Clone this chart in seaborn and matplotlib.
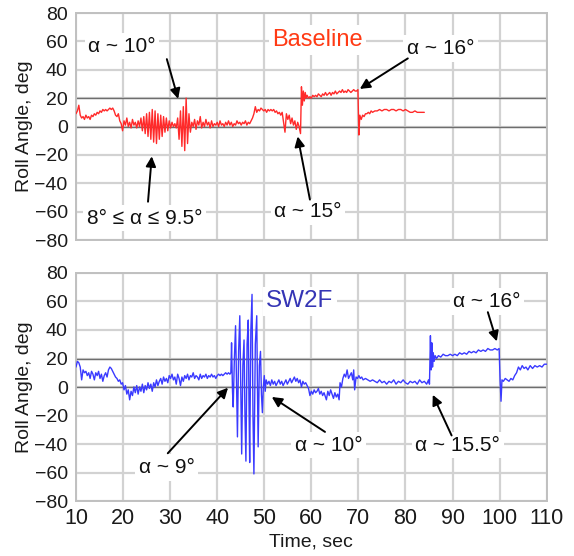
import numpy as np
import pandas as pd
import matplotlib
matplotlib.use("Agg")
import matplotlib.pyplot as plt
import seaborn as sns

# ---------------- data ----------------
base_t = [10.0, 10.3, 10.6, 10.9, 11.2, 11.5, 11.8, 12.1, 12.4, 12.7, 13.0, 13.3, 13.6, 13.9, 14.2, 14.5, 14.8,
          15.1, 15.4, 15.7, 16.0, 16.3, 16.6, 16.9, 17.2, 17.5, 17.8, 18.1, 18.4, 18.7, 19.0, 19.3, 19.6, 19.9,
          20.2, 20.5, 20.8, 21.1, 21.4, 21.7, 22.0, 22.3, 22.6, 22.9, 23.2, 23.5, 23.8, 24.1, 24.4, 24.7, 25.0,
          25.3, 25.6, 25.9, 26.2, 26.5, 26.8, 27.1, 27.4, 27.7, 28.0, 28.3, 28.6, 28.9, 29.2, 29.5, 29.8, 30.1,
          30.4, 30.7, 31.0, 31.3, 31.6, 31.9, 32.2, 32.5, 32.8, 33.1, 33.4, 33.7, 34.0, 34.3, 34.6, 34.9, 35.2,
          35.5, 35.8, 36.1, 36.4, 36.7, 37.0, 37.3, 37.6, 37.9, 38.2, 38.5, 38.8, 39.1, 39.4, 39.7, 40.0, 40.3,
          40.6, 40.9, 41.2, 41.5, 41.8, 42.1, 42.4, 42.7, 43.0, 43.3, 43.6, 43.9, 44.2, 44.5, 44.8, 45.1, 45.4,
          45.7, 46.0, 46.3, 46.6, 46.9, 47.2, 47.5, 47.8, 48.1, 48.4, 48.7, 49.0, 49.3, 49.6, 49.9, 50.2, 50.5,
          50.8, 51.1, 51.4, 51.7, 52.0, 52.3, 52.6, 52.9, 53.2, 53.5, 53.8, 54.1, 54.4, 54.7, 55.0, 55.3, 55.6,
          55.9, 56.2, 56.5, 56.8, 57.1, 57.4, 57.7, 57.9, 58.1, 58.3, 58.5, 58.7, 58.9, 59.1, 59.4, 59.7, 60.0,
          60.3, 60.6, 60.9, 61.2, 61.5, 61.8, 62.1, 62.4, 62.7, 63.0, 63.3, 63.6, 63.9, 64.2, 64.5, 64.8, 65.1,
          65.4, 65.7, 66.0, 66.3, 66.6, 66.9, 67.2, 67.5, 67.8, 68.1, 68.4, 68.7, 69.0, 69.3, 69.6, 69.9, 70.1,
          70.3, 70.6, 70.9, 71.2, 71.5, 71.8, 72.1, 72.4, 72.7, 73.0, 73.5, 74.0, 74.5, 75.0, 75.5, 76.0, 76.5,
          77.0, 77.5, 78.0, 78.5, 79.0, 79.5, 80.0, 80.5, 81.0, 81.5, 82.0, 82.5, 83.0, 83.5, 84.0]
base_roll = [9, 11, 15, 8, 6, 7, 5, 8, 6, 7, 5, 8, 7, 9, 8, 10, 9,
             11, 10, 12, 11, 12, 11, 12, 13, 12, 13, 11, 8, 7, 9, 4, 2, -3,
             4, 1, 6, 0, 3, -1, 5, 1, 3, -1, 4, 0, 6, -3, 7, -5, 9,
             -7, 10, -9, 12, -11, 11, -12, 9, -9, 8, -7, 7, -4, 6, -3, 4, -1,
             3, 0, 2, -1, 6, -9, 11, -14, 14, -17, 20, -12, 9, -4, 3, 0, 5,
             -2, 4, 1, 7, -1, 3, 0, 5, 1, 3, -1, 4, 0, 2, 1, 3, 0,
             4, 1, 2, 0, 3, 1, 4, 1, 3, 0, 2, 1, 4, 2, 3, 1, 3,
             2, 4, 1, 3, 2, 4, 6, 9, 14, 10, 12, 11, 13, 12, 11, 12, 10,
             12, 11, 12, 11, 12, 10, 11, 9, 10, 8, 10, 3, -4, 9, 5, 8, 2,
             6, 1, 4, -2, 3, 0, -5, 28, 15, 25, 18, 24, 20, 22, 20, 21, 20,
             22, 21, 22, 21, 23, 22, 21, 23, 22, 24, 22, 23, 24, 22, 24, 23, 25,
             23, 24, 25, 24, 26, 24, 25, 24, 26, 25, 24, 25, 26, 25, 25, 26, -6,
             8, 5, 8, 7, 9, 9, 10, 9, 11, 10, 11, 11, 12, 11, 12, 12, 11,
             12, 12, 11, 12, 12, 11, 12, 11, 10, 10, 11, 10, 10, 10, 10]

sw_t = [10.0, 10.3, 10.6, 10.9, 11.2, 11.5, 11.8, 12.1, 12.4, 12.7, 13.0, 13.3, 13.6, 13.9, 14.2, 14.5, 14.8,
        15.1, 15.4, 15.7, 16.0, 16.3, 16.6, 16.9, 17.2, 17.5, 17.8, 18.1, 18.4, 18.7, 19.0, 19.3, 19.6, 19.9,
        20.2, 20.5, 20.8, 21.1, 21.4, 21.7, 22.0, 22.3, 22.6, 22.9, 23.2, 23.5, 23.8, 24.1, 24.4, 24.7, 25.0,
        25.3, 25.6, 25.9, 26.2, 26.5, 26.8, 27.1, 27.4, 27.7, 28.0, 28.3, 28.6, 28.9, 29.2, 29.5, 29.8, 30.1,
        30.4, 30.7, 31.0, 31.3, 31.6, 31.9, 32.2, 32.5, 32.8, 33.1, 33.4, 33.7, 34.0, 34.3, 34.6, 34.9, 35.2,
        35.5, 35.8, 36.1, 36.4, 36.7, 37.0, 37.3, 37.6, 37.9, 38.2, 38.5, 38.8, 39.1, 39.4, 39.7, 40.0, 40.3,
        40.6, 40.9, 41.2, 41.5, 41.8, 42.1, 42.4, 42.7, 42.9, 43.05, 43.25, 43.4, 43.65, 43.9, 44.1, 44.3,
        44.55, 44.8, 45.0, 45.2, 45.45, 45.7, 45.9, 46.1, 46.35, 46.6, 46.75, 46.9, 47.15, 47.4, 47.6, 47.8,
        48.1, 48.4, 48.55, 48.7, 48.95, 49.2, 49.4, 49.6, 49.8, 50.0, 50.2, 50.4, 50.7, 51.0, 51.3, 51.6,
        51.9, 52.2, 52.5, 52.8, 53.1, 53.4, 53.7, 54.0, 54.3, 54.6, 54.9, 55.2, 55.5, 55.8, 56.1, 56.4, 56.7,
        57.0, 57.3, 57.6, 57.9, 58.2, 58.5, 58.8, 59.1, 59.4, 59.7, 60.0, 60.3, 60.6, 60.9, 61.2, 61.5, 61.8,
        62.1, 62.4, 62.7, 63.0, 63.2, 63.5, 63.8, 64.1, 64.4, 64.7, 65.0, 65.3, 65.6, 65.9, 66.1, 66.4, 66.7,
        67.0, 67.3, 67.6, 67.9, 68.2, 68.5, 68.8, 69.0, 69.2, 69.5, 69.8, 70.1, 70.4, 70.7, 71.0, 71.5, 72.0,
        72.5, 73.0, 73.5, 74.0, 74.5, 75.0, 75.5, 76.0, 76.5, 77.0, 77.5, 78.0, 78.5, 79.0, 79.5, 80.0, 80.5,
        81.0, 81.5, 82.0, 82.5, 83.0, 83.5, 84.0, 84.5, 84.9, 85.1, 85.3, 85.45, 85.6, 85.75, 85.9, 86.1,
        86.3, 86.6, 87.0, 87.5, 88.0, 88.5, 89.0, 89.5, 90.0, 90.5, 91.0, 91.5, 92.0, 92.5, 93.0, 93.5, 94.0,
        94.5, 95.0, 95.5, 96.0, 96.5, 97.0, 97.5, 98.0, 98.5, 99.0, 99.5, 99.9, 100.1, 100.3, 100.5, 100.8,
        101.2, 101.6, 102.0, 102.4, 102.8, 103.2, 103.6, 104.0, 104.4, 104.8, 105.2, 105.6, 106.0, 106.5,
        107.0, 107.5, 108.0, 108.5, 109.0, 109.5, 110.0]
sw_roll = [14, 18, 17, 14, 5, 12, 10, 11, 8, 10, 6, 11, 9, 5, 10, 8, 11,
           6, 9, 4, 8, 10, 7, 12, 14, 13, 11, 9, 7, 6, 4, 5, 2, 3,
           -2, 1, -5, -2, -9, -3, -6, 0, -4, 1, -5, 0, -3, 2, -4, 1, -2,
           3, -1, 2, -3, 3, 0, 5, 1, 4, 6, 2, 7, 4, 6, 3, 8, 6,
           9, 5, 7, 2, 9, 6, 1, 7, 4, 8, 6, 9, 5, 8, 7, 10, 6,
           8, 7, 5, 9, 6, 8, 7, 9, 6, 8, 7, 9, 7, 8, 6, 8, 9,
           8, 9, 8, 9, 10, 9, 10, 9, 10, 31, -3, -14, 20, 43, 5, -35,
           25, 50, 0, -47, 15, 33, -20, -52, 30, 47, -10, -53, 40, 65, -20, -61,
           30, 50, 0, -42, 15, 25, -5, -18, 0, 8, -3, 5, 2, 4, 1, 5,
           2, 4, 1, 3, 5, 2, 4, 1, 3, 5, 2, 4, 6, 3, 5, 7, 4,
           6, 3, 5, 0, 4, 2, 3, 1, -1, -6, -3, -5, -2, -4, -3, -1, -5,
           -3, -6, -4, -7, -9, -3, -6, -2, -5, -8, -4, -7, -5, -9, 3, 0, 6,
           9, 7, 12, 6, 8, 10, 5, 12, -2, 7, 6, 8, 6, 7, 5, 6, 5,
           4, 5, 4, 3, 5, 3, 4, 2, 4, 3, 5, 2, 4, 3, 5, 3, 2,
           4, 3, 4, 2, 5, 3, 4, 2, 5, 2, 36, 12, 31, 14, 24, 18,
           22, 20, 22, 21, 23, 22, 22, 23, 22, 23, 22, 24, 23, 24, 23, 25, 24,
           25, 24, 26, 25, 26, 25, 27, 26, 26, 27, 26, 27, 5, -10, 5, 4,
           6, 5, 4, 6, 5, 8, 10, 14, 12, 15, 13, 14, 12, 15,
           13, 15, 14, 15, 14, 16, 16]

y_ticks = [80, 60, 40, 20, 0, -20, -40, -60, -80]
x_ticks = [10, 20, 30, 40, 50, 60, 70, 80, 90, 100, 110]

df_base = pd.DataFrame({"Time": base_t, "Roll": base_roll})
df_sw = pd.DataFrame({"Time": sw_t, "Roll": sw_roll})

# ---------------- style ----------------
sns.set_theme(style="white")
plt.rcParams["font.family"] = ["Liberation Sans", "DejaVu Sans"]

fig = plt.figure(figsize=(5.74, 5.56), dpi=100)
ax1 = fig.add_axes([0.1324, 0.5683, 0.820, 0.4083])
ax2 = fig.add_axes([0.1324, 0.0989, 0.820, 0.4101])

RED = "#ff2a2a"
BLUE = "#3a3aff"


def style_axis(ax, show_x):
    ax.set_xlim(10, 110)
    ax.set_ylim(-80, 80)
    ax.set_yticks(y_ticks)
    ax.set_xticks(x_ticks)
    ax.grid(True, color="#d2d2d2", linewidth=1.6, zorder=0)
    ax.set_axisbelow(True)
    for yv in (0, 20):
        ax.axhline(yv, color="#6e6e6e", linewidth=1.0, zorder=1)
    for s in ax.spines.values():
        s.set_color("#c0c0c0")
        s.set_linewidth(1.4)
    ax.tick_params(axis="y", length=5, color="#b0b0b0", labelsize=14, pad=1, labelcolor="#1a1a1a")
    ax.tick_params(axis="x", length=4, color="#b0b0b0", labelsize=15.5, pad=1, labelcolor="#1a1a1a")
    ax.set_ylabel("Roll Angle, deg", fontsize=14, labelpad=1, color="#1a1a1a")
    if not show_x:
        ax.set_xticklabels([])
        ax.tick_params(axis="x", length=0)
        ax.set_xlabel("")


sns.lineplot(data=df_base, x="Time", y="Roll", ax=ax1, color=RED, linewidth=1.0, zorder=3)
sns.lineplot(data=df_sw, x="Time", y="Roll", ax=ax2, color=BLUE, linewidth=1.0, zorder=3)
style_axis(ax1, False)
style_axis(ax2, True)
ax2.set_xlabel("Time, sec", fontsize=14, labelpad=3, color="#1a1a1a")

box = dict(facecolor="white", edgecolor="none", pad=2.5)
arrow = dict(arrowstyle="-|>", color="black", lw=1.4, mutation_scale=15, shrinkA=0, shrinkB=0)


def note(ax, text, tx, ty, tail, tip, color="#111111", size=15):
    ax.text(tx, ty, text, ha="center", va="center", fontsize=size, color=color, bbox=box, zorder=5)
    if tail is not None:
        ax.annotate("", xy=tip, xytext=tail, arrowprops=arrow, zorder=6)


# top panel
note(ax1, "Baseline", 61.3, 61, None, None, color="#ff3a14", size=17)
note(ax1, "α ~ 10°", 19.8, 56.5, (29.3, 47.5), (31.7, 19.5))
note(ax1, "8° ≤ α ≤ 9.5°", 24.6, -64.5, (25.3, -53), (26.1, -21))
note(ax1, "α ~ 15°", 59.3, -60, (59.7, -51.5), (57.1, -7))
note(ax1, "α ~ 16°", 87.5, 55, (80.5, 48), (70.3, 26.5))

# bottom panel
note(ax2, "SW2F", 57.6, 60, None, None, color="#3535b5", size=17.5)
note(ax2, "α ~ 9°", 29.3, -56.5, (29.5, -46.5), (42.3, -0.5))
note(ax2, "α ~ 10°", 63.7, -41, (62.9, -31.5), (51.6, -7))
note(ax2, "α ~ 15.5°", 91.1, -41, (89.8, -34), (85.8, -5.5))
note(ax2, "α ~ 16°", 97.3, 60, (97.5, 52.5), (99.4, 32))

fig.savefig("out.png", dpi=100, facecolor="white")
